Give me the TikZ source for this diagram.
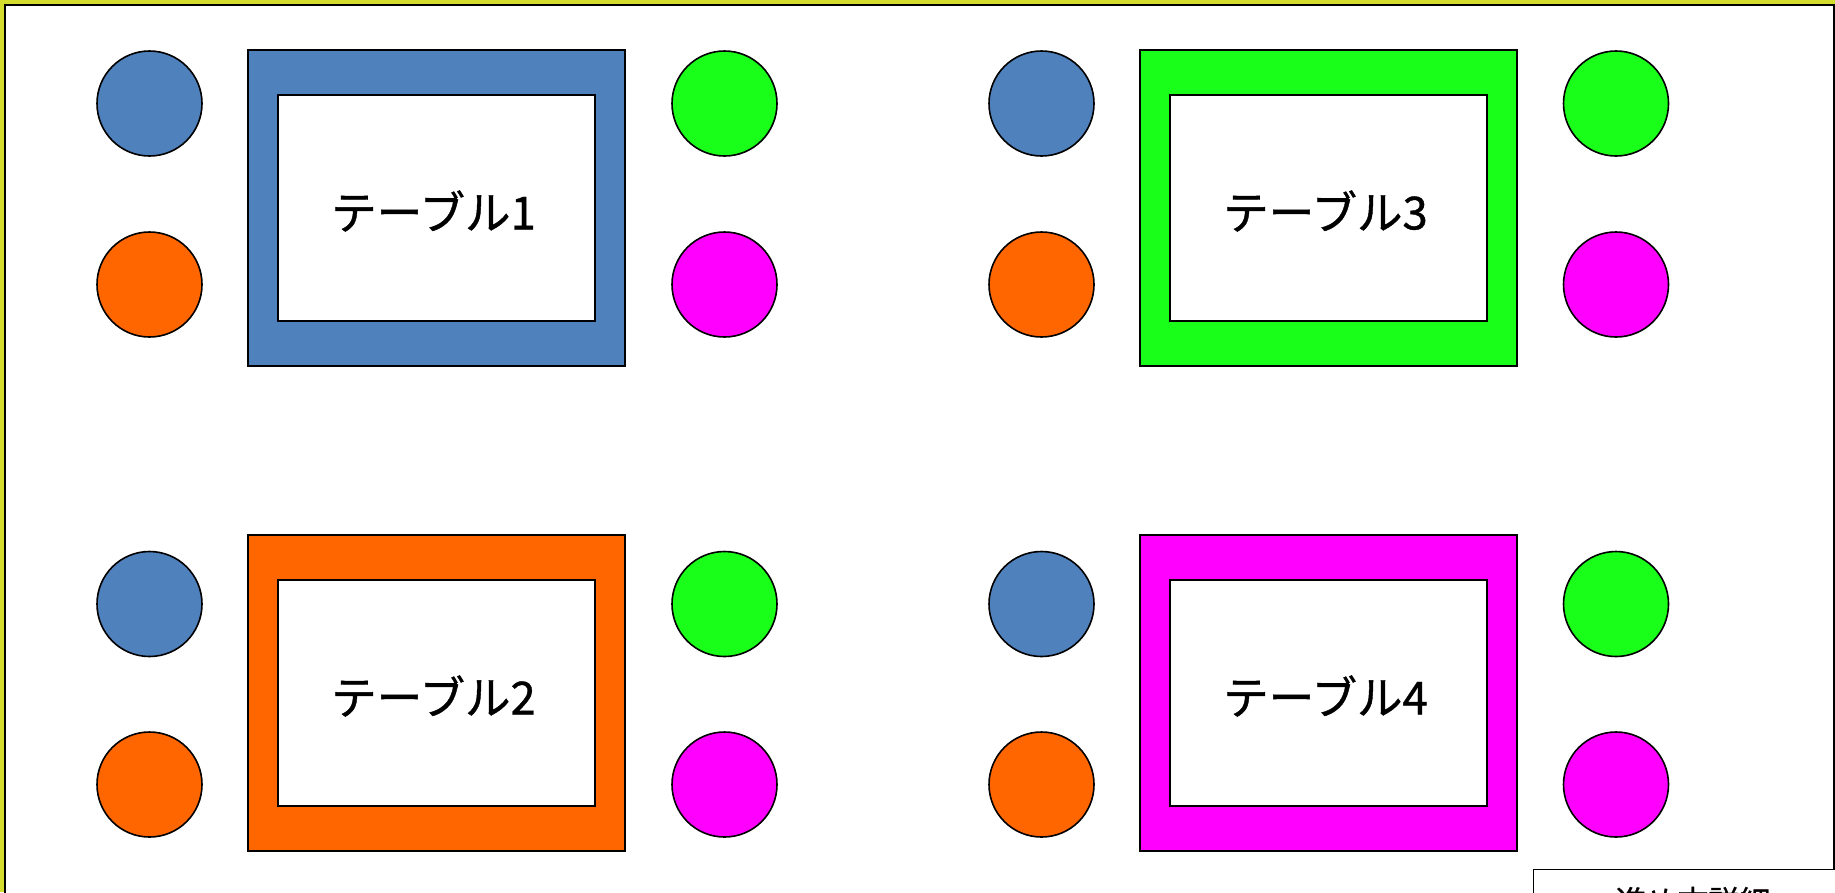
\documentclass[tikz,border=0pt]{standalone}
\usepackage{fontspec}
\newfontfamily\jpfont[FakeBold=0.9]{Noto Sans CJK JP}
\definecolor{bgyellow}{RGB}{212,221,46}
\definecolor{seatblue}{RGB}{79,129,189}
\definecolor{seatorange}{RGB}{255,102,0}
\definecolor{seatgreen}{RGB}{26,255,26}
\definecolor{seatmagenta}{RGB}{255,0,255}
\begin{document}
\begin{tikzpicture}[x=1pt,y=-1pt,
  seat/.style={circle,draw=black,line width=1.6pt,minimum size=105pt,inner sep=0pt},
  tableframe/.style={rectangle,draw=black,line width=1.1pt,minimum width=377pt,minimum height=316pt,inner sep=0pt},
  tabletop/.style={rectangle,draw=black,fill=white,line width=1.1pt,minimum width=317pt,minimum height=226pt,inner sep=0pt},
  tablelabel/.style={font=\jpfont\fontsize{45.5}{52}\selectfont,inner sep=0pt},
  detailbox/.style={rectangle,draw=black,fill=white,line width=1.4pt,anchor=north west,minimum width=322pt,minimum height=80pt,inner sep=0pt},
  detaillabel/.style={font=\jpfont\fontsize{31}{36}\selectfont,inner sep=0pt,anchor=base}
]
\fill[bgyellow] (0,0) rectangle (1835,892);
\useasboundingbox (0,0) rectangle (1835,892);
\draw[fill=white,line width=1.6pt] (5,5) rectangle (1834,920);

% tables
\foreach \n/\cx/\cy/\col in {1/436.5/208/seatblue,2/436.5/693/seatorange,3/1328.5/208/seatgreen,4/1328.5/693/seatmagenta}{
  \node[tableframe,fill=\col] (frame\n) at (\cx,\cy) {};
  \node[tabletop] (top\n) at (\cx,\cy) {};
  \node[tablelabel] (label\n) at (\cx-3,\cy+3) {テーブル\n};
}

% seats
\foreach \t/\lx/\rx/\ty/\by in {1/149.5/724.5/103.5/284.5,2/149.5/724.5/604/784.5,3/1041.5/1616/103.5/284.5,4/1041.5/1616/604/784.5}{
  \node[seat,fill=seatblue] (seat\t a) at (\lx,\ty) {};
  \node[seat,fill=seatorange] (seat\t b) at (\lx,\by) {};
  \node[seat,fill=seatgreen] (seat\t c) at (\rx,\ty) {};
  \node[seat,fill=seatmagenta] (seat\t d) at (\rx,\by) {};
}

% detail box (cut off at the page edge, as in the reference)
\node[detailbox] (detail) at (1533,869) {};
\node[detaillabel] (detailtext) at (1693,913) {進め方詳細};
\end{tikzpicture}
\end{document}
